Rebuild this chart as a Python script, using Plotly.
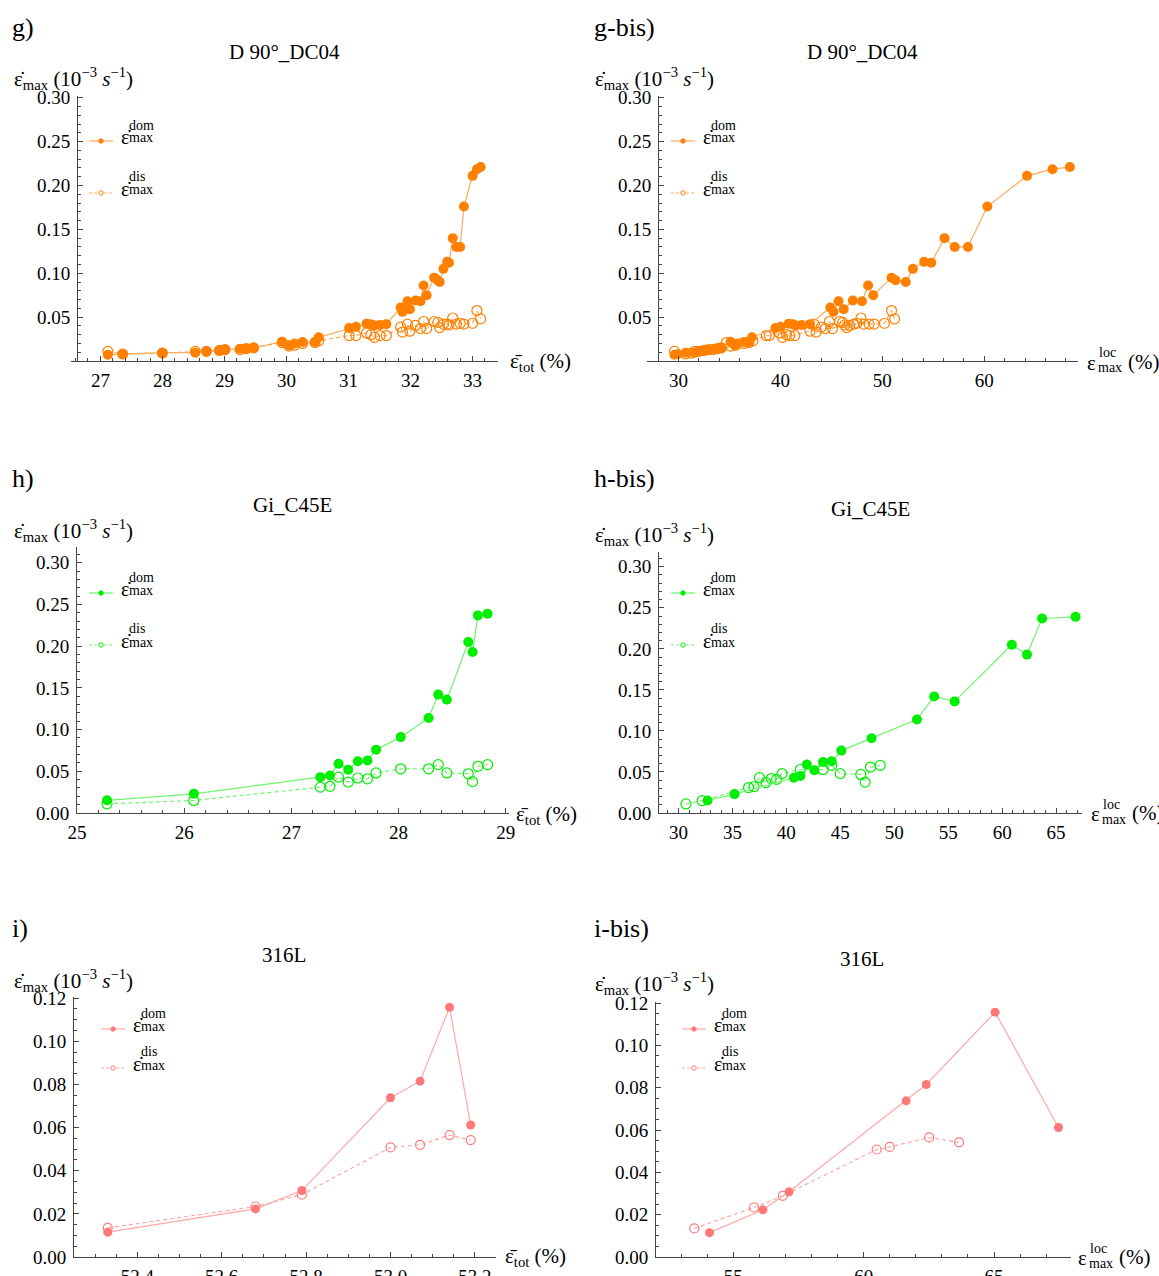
import plotly.graph_objects as go
import numpy as np

W, H = 1159, 1276
FONT = "Liberation Serif"

# ---------------- data ----------------
# g) D 90°_DC04
g_tot = [27.12, 27.36, 28.0, 28.53, 28.71, 28.92, 29.01, 29.25, 29.35, 29.47, 29.93, 30.04, 30.13, 30.26,
         30.46, 30.52, 31.01, 31.12, 31.29, 31.36, 31.42, 31.51, 31.61, 31.84, 31.87, 31.95, 31.99, 32.08,
         32.16, 32.21, 32.26, 32.38, 32.44, 32.47, 32.53, 32.59, 32.62, 32.68, 32.74, 32.80, 32.86, 33.0,
         33.07, 33.13]
g_dom = [0.0072, 0.0076, 0.0095, 0.0095, 0.011, 0.012, 0.013, 0.014, 0.014, 0.015, 0.022, 0.018, 0.020,
         0.0216, 0.0216, 0.027, 0.0375, 0.039, 0.0424, 0.042, 0.0405, 0.041, 0.042, 0.061, 0.056, 0.068,
         0.059, 0.069, 0.068, 0.086, 0.075, 0.095, 0.092, 0.090, 0.105, 0.113, 0.112, 0.140, 0.130, 0.130,
         0.176, 0.211, 0.2186, 0.221]
g_dis = [0.011, 0.008, 0.009, 0.011, 0.011, 0.012, 0.013, 0.013, 0.014, 0.015, 0.021, 0.017, 0.018, 0.020,
         0.021, 0.023, 0.029, 0.029, 0.032, 0.030, 0.027, 0.029, 0.029, 0.0386, 0.033, 0.042, 0.034, 0.0405,
         0.037, 0.045, 0.037, 0.045, 0.044, 0.038, 0.042, 0.042, 0.041, 0.049, 0.042, 0.043, 0.042, 0.043,
         0.0575, 0.048]
gb_loc_dom = [29.6, 29.9, 30.7, 31.6, 32.0, 32.5, 32.9, 33.5, 33.8, 34.2, 35.1, 35.5, 35.8, 36.4, 36.9,
              37.2, 39.5, 40.0, 40.8, 41.2, 41.5, 42.1, 42.9, 44.9, 45.2, 45.7, 46.2, 47.1, 48.0, 48.6,
              49.1, 50.9, 51.3, 52.3, 53.0, 54.1, 54.8, 56.1, 57.1, 58.4, 60.3, 64.2, 66.7, 68.4]
gb_loc_dis = [29.6, 30.7, 31.3, 31.6, 32.0, 32.5, 33.0, 33.4, 33.8, 34.2, 34.7, 35.1, 35.6, 36.4, 36.9,
              37.3, 38.6, 38.9, 39.9, 40.6, 40.2, 40.9, 41.4, 44.0, 43.5, 43.3, 42.9, 46.8, 44.4, 44.8,
              45.1, 45.8, 46.1, 46.5, 47.2, 48.2, 46.3, 47.9, 48.7, 47.5, 49.2, 50.2, 50.9, 51.2]

# h) Gi_C45E
h_tot = [25.28, 26.09, 27.27, 27.36, 27.44, 27.53, 27.62, 27.71, 27.79, 28.02, 28.28, 28.37, 28.45,
         28.65, 28.69, 28.74, 28.83]
h_dom = [0.0152, 0.023, 0.043, 0.045, 0.059, 0.052, 0.062, 0.063, 0.076, 0.091, 0.114, 0.142, 0.136,
         0.205, 0.193, 0.237, 0.239]
h_dis = [0.011, 0.015, 0.031, 0.032, 0.043, 0.037, 0.042, 0.041, 0.048, 0.053, 0.053, 0.058, 0.048,
         0.047, 0.0376, 0.056, 0.058]
hb_loc_dom = [32.7, 35.2, 40.7, 41.3, 41.9, 42.6, 43.4, 44.2, 45.1, 47.9, 52.1, 53.7, 55.6, 60.9, 62.3,
              63.7, 66.8]
hb_loc_dis = [30.7, 32.2, 36.5, 37.0, 37.5, 38.1, 38.6, 39.1, 39.6, 41.3, 43.4, 44.2, 45.0, 46.9, 47.3,
              47.8, 48.7]

# i) 316L
i_tot = [52.33, 52.68, 52.79, 53.0, 53.07, 53.14, 53.19]
i_dom = [0.0115, 0.0223, 0.0308, 0.0738, 0.0815, 0.1157, 0.0612]
i_dis = [0.0135, 0.0234, 0.0289, 0.0508, 0.052, 0.0565, 0.0542]
ib_loc_dom = [54.09, 56.14, 57.14, 61.63, 62.4, 65.04, 67.47]
ib_loc_dis = [53.51, 55.8, 56.9, 60.5, 61.0, 62.51, 63.66]

ORANGE = ("#FF8000", "#FFAA5C")
GREEN = ("#00EE00", "#6EF56E")
PINK = ("#FF7878", "#FFA8A8")

fig = go.Figure()

def fx(px):
    return px / W

def fy(py):
    return 1 - py / H

AXC = "#444444"
TF = dict(family=FONT, size=19, color="black")

def fmt(v, nd):
    return f"{v:.{nd}f}"

panels = [
    dict(xd=(70.6, 498), yd=(361, 96), xr=[26.52, 33.41], yr=[0, 0.302], ypos=77,
         xt=list(range(27, 34)), xnd=0, xm=0.2, yt=[0.05, 0.10, 0.15, 0.20, 0.25, 0.30], ynd=2, ym=0.01,
         xdom=g_tot, ydom=g_dom, xdis=g_tot, ydis=g_dis, c=ORANGE, ms=10),
    dict(xd=(647, 1078), yd=(361, 96), xr=[26.9, 69.2], yr=[0, 0.302], ypos=658,
         xt=[30, 40, 50, 60], xnd=0, xm=2, yt=[0.05, 0.10, 0.15, 0.20, 0.25, 0.30], ynd=2, ym=0.01,
         xdom=gb_loc_dom, ydom=g_dom, xdis=gb_loc_dis, ydis=g_dis, c=ORANGE, ms=10),
    dict(xd=(77, 509), yd=(813, 547), xr=[25.0, 29.03], yr=[0, 0.319], ypos=None,
         xt=[25, 26, 27, 28, 29], xnd=0, xm=0.2, yt=[0, 0.05, 0.10, 0.15, 0.20, 0.25, 0.30], ynd=2, ym=0.01,
         xdom=h_tot, ydom=h_dom, xdis=h_tot, ydis=h_dis, c=GREEN, ms=10),
    dict(xd=(659, 1082), yd=(813, 552), xr=[28.2, 67.4], yr=[0, 0.318], ypos=None,
         xt=[30, 35, 40, 45, 50, 55, 60, 65], xnd=0, xm=1, yt=[0, 0.05, 0.10, 0.15, 0.20, 0.25, 0.30], ynd=2, ym=0.01,
         xdom=hb_loc_dom, ydom=h_dom, xdis=hb_loc_dis, ydis=h_dis, c=GREEN, ms=10),
    dict(xd=(74, 496), yd=(1257, 997), xr=[52.25, 53.25], yr=[0, 0.1205], ypos=None,
         xt=[52.4, 52.6, 52.8, 53.0, 53.2], xnd=1, xm=0.05, yt=[0, 0.02, 0.04, 0.06, 0.08, 0.10, 0.12], ynd=2, ym=0.005,
         xdom=i_tot, ydom=i_dom, xdis=i_tot, ydis=i_dis, c=PINK, ms=9),
    dict(xd=(656, 1071), yd=(1257, 1002), xr=[52.04, 67.95], yr=[0, 0.1205], ypos=None,
         xt=[55, 60, 65], xnd=0, xm=1, yt=[0, 0.02, 0.04, 0.06, 0.08, 0.10, 0.12], ynd=2, ym=0.005,
         xdom=ib_loc_dom, ydom=i_dom, xdis=ib_loc_dis, ydis=i_dis, c=PINK, ms=9),
]

layout = {}
for k, p in enumerate(panels, start=1):
    xa = "xaxis" if k == 1 else f"xaxis{k}"
    ya = "yaxis" if k == 1 else f"yaxis{k}"
    xref = "x" if k == 1 else f"x{k}"
    yref = "y" if k == 1 else f"y{k}"
    xminor = list(np.arange(np.ceil(p["xr"][0] / p["xm"]) * p["xm"], p["xr"][1], p["xm"]))
    yminor = list(np.arange(0, p["yr"][1] + 1e-9, p["ym"]))
    layout[xa] = dict(domain=[fx(p["xd"][0]), fx(p["xd"][1])], range=p["xr"], anchor=yref,
                      automargin=False,
                      showline=True, linecolor=AXC, linewidth=1, showgrid=False, zeroline=False,
                      ticks="inside", ticklen=5, tickcolor=AXC, tickwidth=1,
                      tickmode="array", tickvals=p["xt"], ticktext=[fmt(v, p["xnd"]) for v in p["xt"]],
                      minor=dict(tickmode="array", tickvals=xminor, ticks="inside", ticklen=3,
                                 tickcolor=AXC, showgrid=False),
                      tickfont=TF, ticklabelstandoff=2)
    ya_d = dict(domain=[fy(p["yd"][0]), fy(p["yd"][1])], range=p["yr"], automargin=False,
                showline=True, linecolor=AXC, linewidth=1, showgrid=False, zeroline=False,
                ticks="inside", ticklen=5, tickcolor=AXC, tickwidth=1,
                tickmode="array", tickvals=p["yt"], ticktext=[fmt(v, p["ynd"]) for v in p["yt"]],
                minor=dict(tickmode="array", tickvals=yminor, ticks="inside", ticklen=3,
                           tickcolor=AXC, showgrid=False),
                tickfont=TF, ticklabelstandoff=3)
    if p["ypos"] is not None:
        ya_d.update(anchor="free", position=fx(p["ypos"]))
    else:
        ya_d.update(anchor=xref)
    layout[ya] = ya_d

    cm, cl = p["c"]
    fig.add_trace(go.Scatter(x=p["xdis"], y=p["ydis"], xaxis=xref, yaxis=yref, mode="lines+markers",
                             line=dict(color=cl, width=1.2, dash="4px,3px"),
                             marker=dict(symbol="circle-open", size=p["ms"], color=cm, line=dict(width=1.2, color=cm)),
                             showlegend=False))
    fig.add_trace(go.Scatter(x=p["xdom"], y=p["ydom"], xaxis=xref, yaxis=yref, mode="lines+markers",
                             line=dict(color=cl, width=1.2),
                             marker=dict(symbol="circle", size=p["ms"], color=cm),
                             showlegend=False))

annotations = []
shapes = []

def ann(text, px, py, size, xanchor="left", yanchor="middle"):
    annotations.append(dict(text=text, x=fx(px), y=fy(py), xref="paper", yref="paper",
                            xanchor=xanchor, yanchor=yanchor, showarrow=False,
                            font=dict(family=FONT, size=size, color="black")))

EDOT = "\u03b5\u0307"
EBAR = "\u03b5\u0304"

# panel labels
for txt, px, py in [("g)", 10, 27), ("g-bis)", 592, 27), ("h)", 10, 478), ("h-bis)", 592, 478),
                    ("i)", 10, 928), ("i-bis)", 592, 928)]:
    ann(txt, px, py, 26)

# titles
for txt, px, py in [("D 90°_DC04", 284, 52), ("D 90°_DC04", 862, 52), ("Gi_C45E", 292, 505),
                    ("Gi_C45E", 870, 509), ("316L", 284, 955), ("316L", 862, 959)]:
    ann(txt, px, py, 21, xanchor="center")

# y-axis labels
ylab = EDOT + "<sub>max</sub> (10<sup>\u22123</sup> <i>s</i><sup>\u22121</sup>)"
for px, py in [(12, 78), (593, 78), (12, 530), (593, 534), (12, 980), (593, 983)]:
    ann(ylab, px, py, 21)

# x-axis labels (total strain)
for px, py in [(508, 362), (514, 815), (503, 1257)]:
    ann(EBAR + "<sub>tot</sub> (%)", px, py, 21)

# x-axis labels (local strain)
for px, py in [(1085, 362), (1089, 813), (1076, 1257)]:
    ann("\u03b5", px, py + 1, 21)
    ann("loc", px + 12, py - 9, 14)
    ann("max", px + 11, py + 6, 14)
    ann("(%)", px + 41, py, 21)

# legends
def legend(x0, y_dom, y_dis, col):
    cm, cl = col
    for y, dashed in [(y_dom, False), (y_dis, True)]:
        shapes.append(dict(type="line", xref="paper", yref="paper", x0=fx(x0), x1=fx(x0 + 24),
                           y0=fy(y), y1=fy(y), line=dict(color=cl, width=1.2, dash="3px,2px" if dashed else "solid")))
        cx = x0 + 12
        r = 2.2
        shapes.append(dict(type="circle", xref="paper", yref="paper", x0=fx(cx - r), x1=fx(cx + r),
                           y0=fy(y + r), y1=fy(y - r),
                           fillcolor=("white" if dashed else cm), line=dict(color=cm, width=1)))
    tx = x0 + 30
    ann(EDOT, tx, y_dom - 4, 20)
    ann("dom", tx + 8, y_dom - 16, 14)
    ann("max", tx + 8, y_dom - 3, 14)
    ann(EDOT, tx, y_dis - 4, 20)
    ann("dis", tx + 8, y_dis - 17, 14)
    ann("max", tx + 8, y_dis - 3, 14)

legend(89, 141, 193, ORANGE)
legend(671, 141, 193, ORANGE)
legend(89, 593, 645, GREEN)
legend(671, 593, 645, GREEN)
legend(101, 1029, 1068, PINK)
legend(682, 1029, 1068, PINK)

fig.update_layout(width=W, height=H, margin=dict(l=0, r=0, t=0, b=0, autoexpand=False),
                  paper_bgcolor="white", plot_bgcolor="white", showlegend=False,
                  annotations=annotations, shapes=shapes, **layout)

fig.write_html("out.html", config={"displayModeBar": False},
               post_script="document.body.style.margin='0';document.body.style.padding='0';"
                           "document.body.style.overflow='hidden';")
